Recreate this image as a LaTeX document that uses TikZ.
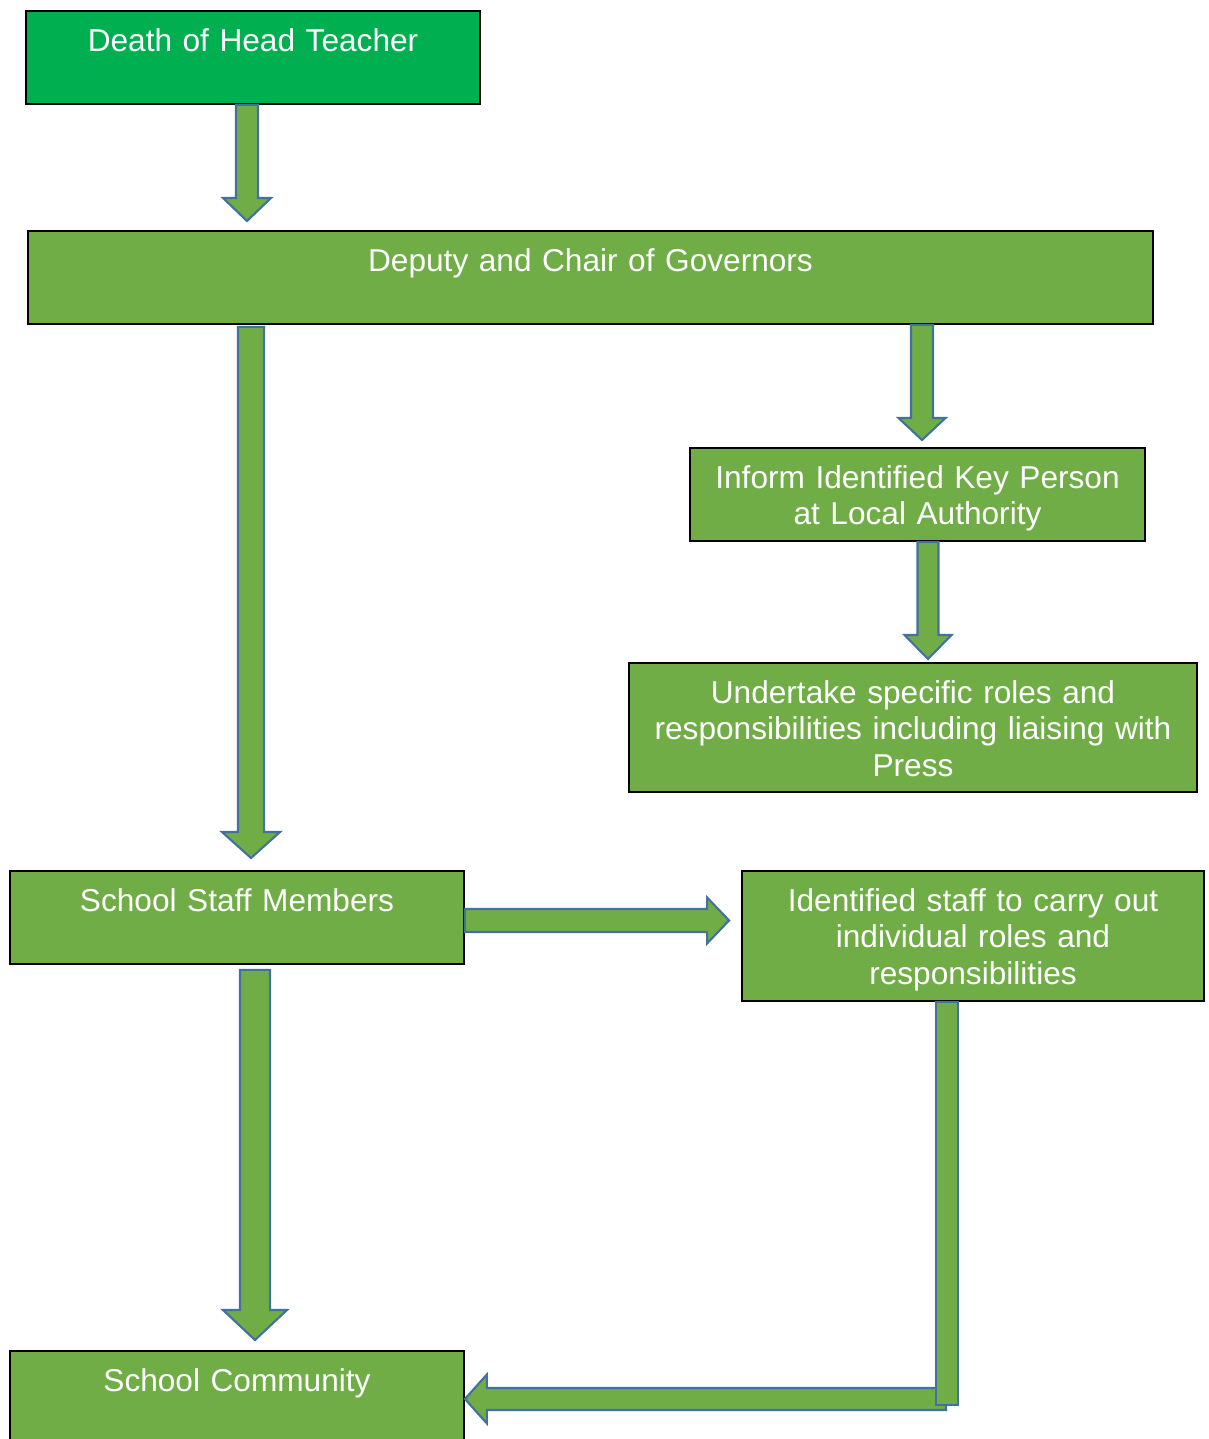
\documentclass[tikz,border=0pt]{standalone}
\usepackage{fontspec}
\setmainfont{Liberation Sans}
\usetikzlibrary{calc}

\definecolor{stagegreen}{HTML}{70AD47}
\definecolor{startgreen}{HTML}{00B050}
\definecolor{arrowline}{HTML}{41719C}

% block arrow: start, tip, shaft half width, head half width, head length
\newcommand{\blockarrow}[5]{%
  \coordinate (ba-s) at (#1);
  \coordinate (ba-e) at (#2);
  \coordinate (ba-b) at ($(ba-e)!#5!(ba-s)$);
  \draw[flowarrow] ($(ba-s)!#3!90:(ba-e)$) -- ($(ba-b)!#3!90:(ba-e)$) -- ($(ba-b)!#4!90:(ba-e)$) -- (ba-e)
    -- ($(ba-b)!#4!-90:(ba-e)$) -- ($(ba-b)!#3!-90:(ba-e)$) -- ($(ba-s)!#3!-90:(ba-e)$) -- cycle;
}

\begin{document}
\begin{tikzpicture}[x=0.02cm,y=-0.02cm,
    stagebox/.style={draw=black, line width=1.1pt, fill=stagegreen, text=white, anchor=north,
      align=center, inner xsep=0pt, inner ysep=0pt, text height=0.82cm, text depth=1.04cm,
      font=\fontsize{18}{20.5}\selectfont},
    flowarrow/.style={draw=arrowline, line width=1.2pt, fill=stagegreen, line join=miter}]
    \useasboundingbox (0,0) rectangle (1208,1439);

    % boxes
    \node[stagebox, fill=startgreen, text width=9.08cm] (death) at (253,10) {Death of Head Teacher};
    \node[stagebox, text width=22.5cm] (deputy) at (590.5,230) {Deputy and Chair of Governors};
    \node[stagebox, text width=9.1cm] (inform) at (917.5,447) {Inform Identified Key Person\\at Local Authority};
    \node[stagebox, text width=11.36cm, text depth=1.76cm] (undertake) at (913,662)
        {Undertake specific roles and\\responsibilities including liaising with\\Press};
    \node[stagebox, text width=9.08cm] (staff) at (237,870) {School Staff Members};
    \node[stagebox, text width=9.24cm, text depth=1.78cm] (identified) at (973,870)
        {Identified staff to carry out\\individual roles and\\responsibilities};
    \node[stagebox, text width=9.08cm] (community) at (237,1350) {School Community};

    % arrows
    \blockarrow{247,0 |- death.south}{$(247,0 |- deputy.north)+(0,-9)$}{0.22cm}{0.48cm}{0.46cm}
    \blockarrow{$(251,0 |- deputy.south)+(0,2)$}{$(251,0 |- staff.north)+(0,-12)$}{0.26cm}{0.58cm}{0.52cm}
    \blockarrow{922,0 |- deputy.south}{$(922,0 |- inform.north)+(0,-7)$}{0.22cm}{0.47cm}{0.44cm}
    \blockarrow{928,0 |- inform.south}{$(928,0 |- undertake.north)+(0,-3)$}{0.21cm}{0.47cm}{0.48cm}
    \blockarrow{$(staff.east)+(0,3)$}{$(identified.west |- staff.east)+(-12,3)$}{0.23cm}{0.46cm}{0.44cm}
    \blockarrow{$(255,0 |- staff.south)+(0,5)$}{$(255,0 |- community.north)+(0,-10)$}{0.30cm}{0.64cm}{0.60cm}
    \blockarrow{$(946,0 |- community.east)+(0,1.5)$}{$(community.east)+(0,1.5)$}{0.22cm}{0.49cm}{0.44cm}
    \draw[flowarrow] (936,0 |- identified.south) rectangle (958,1405);

\end{tikzpicture}
\end{document}
